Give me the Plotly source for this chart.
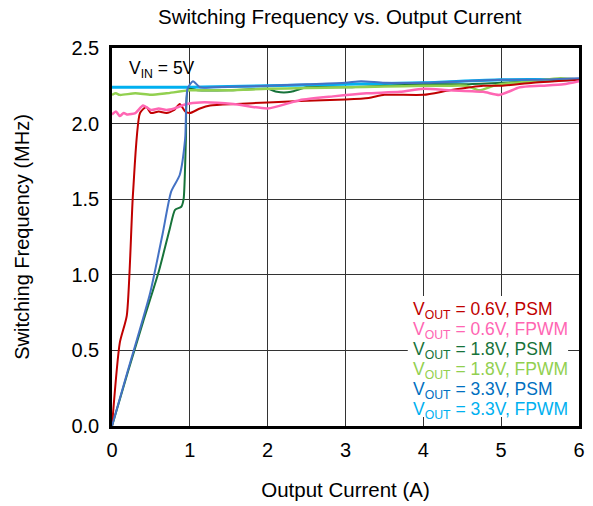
import plotly.graph_objects as go

# ---- data ----
red_x = [0, 0.10, 0.19, 0.27, 0.36, 0.44, 0.50, 0.60, 0.70, 0.80, 0.87, 0.94, 1.0, 1.13, 1.26, 1.6, 2.0, 2.41, 3.0, 3.3, 3.5, 4.0, 4.34, 4.77, 5.0, 5.41, 6.0]
red_y = [0, 0.55, 0.73, 1.54, 2.07, 2.11, 2.07, 2.08, 2.07, 2.09, 2.13, 2.08, 2.07, 2.10, 2.12, 2.13, 2.14, 2.15, 2.16, 2.17, 2.19, 2.19, 2.22, 2.25, 2.25, 2.27, 2.29]

pink_x = [0, 0.05, 0.1, 0.15, 0.2, 0.3, 0.4, 0.5, 0.6, 0.7, 0.8, 0.96, 1.13, 1.56, 2.0, 2.41, 2.84, 3.27, 3.7, 4.0, 4.34, 4.77, 4.98, 5.24, 5.5, 5.8, 6.0]
pink_y = [2.06, 2.08, 2.05, 2.07, 2.06, 2.07, 2.12, 2.09, 2.10, 2.09, 2.10, 2.13, 2.14, 2.13, 2.10, 2.155, 2.18, 2.20, 2.21, 2.23, 2.22, 2.21, 2.19, 2.24, 2.25, 2.26, 2.28]

dgreen_x = [0, 0.20, 0.40, 0.60, 0.74, 0.81, 0.89, 0.92, 0.95, 0.98, 1.1, 1.5, 2.0, 2.12, 2.3, 2.5, 3.0, 3.5, 4.0, 4.5, 5.0, 5.5, 6.0]
dgreen_y = [0, 0.35, 0.69, 1.02, 1.30, 1.43, 1.45, 1.50, 1.90, 2.23, 2.22, 2.22, 2.23, 2.21, 2.21, 2.24, 2.24, 2.25, 2.26, 2.26, 2.27, 2.28, 2.29]

lgreen_x = [0, 0.05, 0.1, 0.3, 0.5, 0.7, 1.0, 1.5, 2.0, 2.5, 3.0, 3.5, 4.0, 4.3, 4.55, 4.72, 4.9, 5.0, 5.4, 5.76, 6.0]
lgreen_y = [2.19, 2.20, 2.19, 2.20, 2.19, 2.20, 2.22, 2.22, 2.23, 2.235, 2.24, 2.245, 2.25, 2.25, 2.25, 2.22, 2.25, 2.26, 2.28, 2.30, 2.29]

blue_x = [0, 0.2, 0.49, 0.65, 0.76, 0.87, 0.94, 0.97, 1.04, 1.13, 1.3, 2.0, 2.5, 3.0, 3.2, 3.5, 4.0, 4.5, 5.0, 5.5, 6.0]
blue_y = [0, 0.36, 0.88, 1.27, 1.55, 1.66, 1.90, 2.23, 2.28, 2.24, 2.24, 2.25, 2.26, 2.27, 2.28, 2.27, 2.27, 2.28, 2.29, 2.29, 2.30]

cyan_x = [0, 1.0, 2.0, 3.0, 4.0, 5.0, 6.0]
cyan_y = [2.24, 2.24, 2.25, 2.26, 2.27, 2.29, 2.29]

labels = ["V<sub>OUT</sub> = 0.6V, PSM", "V<sub>OUT</sub> = 0.6V, FPWM",
          "V<sub>OUT</sub> = 1.8V, PSM", "V<sub>OUT</sub> = 1.8V, FPWM",
          "V<sub>OUT</sub> = 3.3V, PSM", "V<sub>OUT</sub> = 3.3V, FPWM"]
line_colors = ["#C00000", "#FF66B3", "#17733A", "#92D050", "#4472C4", "#00B0F0"]
text_colors = ["#C00000", "#FF66B3", "#17733A", "#92D050", "#0070C0", "#00B0F0"]
label_y = [0.765, 0.633, 0.50, 0.368, 0.235, 0.103]

FONT = "Arial, Liberation Sans, sans-serif"

fig = go.Figure()
series = [
    (cyan_x, cyan_y, 5, 3),
    (dgreen_x, dgreen_y, 2, 2),
    (lgreen_x, lgreen_y, 3, 2.5),
    (red_x, red_y, 0, 2),
    (pink_x, pink_y, 1, 2.5),
    (blue_x, blue_y, 4, 2),
]
for xs, ys, i, w in series:
    fig.add_trace(go.Scatter(x=xs, y=ys, mode="lines", name=labels[i],
                             line=dict(color=line_colors[i], width=w, shape="spline", smoothing=0.6),
                             showlegend=False))

# white box behind the text legend (hides the grid there)
fig.add_shape(type="rect", xref="x", yref="y", x0=3.80, x1=5.86, y0=0.06, y1=0.86,
              fillcolor="white", line=dict(width=0), layer="above")
for t, c, yy in zip(labels, text_colors, label_y):
    fig.add_annotation(x=3.84, y=yy, xref="x", yref="y", text=t, showarrow=False,
                       xanchor="left", yanchor="middle", align="left",
                       font=dict(family=FONT, size=17.5, color=c))
fig.add_annotation(x=0.19, y=2.36, xref="x", yref="y", text="V<sub>IN</sub> = 5V",
                   showarrow=False, xanchor="left", align="left",
                   font=dict(family=FONT, size=17.5, color="black"))

fig.update_layout(
    width=593, height=506,
    margin=dict(l=112, r=14, t=48, b=80),
    paper_bgcolor="white", plot_bgcolor="white",
    font=dict(family=FONT, size=20, color="black"),
    title=dict(text="Switching Frequency vs. Output Current", x=0.573, xanchor="center",
               y=0.966, yanchor="middle", font=dict(family=FONT, size=20.5, color="black")),
)
fig.update_xaxes(range=[0, 6], tickvals=[0, 1, 2, 3, 4, 5, 6], showgrid=True, gridcolor="#333333",
                 gridwidth=1, showline=True, linecolor="black", linewidth=2.5, mirror=True,
                 zeroline=False, ticks="", ticklabelstandoff=4, automargin=False,
                 title=dict(text="Output Current (A)", standoff=23, font=dict(size=20.5)),
                 tickfont=dict(size=20))
fig.update_yaxes(range=[0, 2.5], tickvals=[0, 0.5, 1.0, 1.5, 2.0, 2.5], tickformat=".1f",
                 showgrid=True, gridcolor="#333333", gridwidth=1, showline=True, linecolor="black",
                 linewidth=2.5, mirror=True, zeroline=False, ticks="", ticklabelstandoff=6,
                 automargin=False,
                 title=dict(text="Switching Frequency (MHz)", standoff=37, font=dict(size=20)),
                 tickfont=dict(size=20))

fig.write_html("out.html")
